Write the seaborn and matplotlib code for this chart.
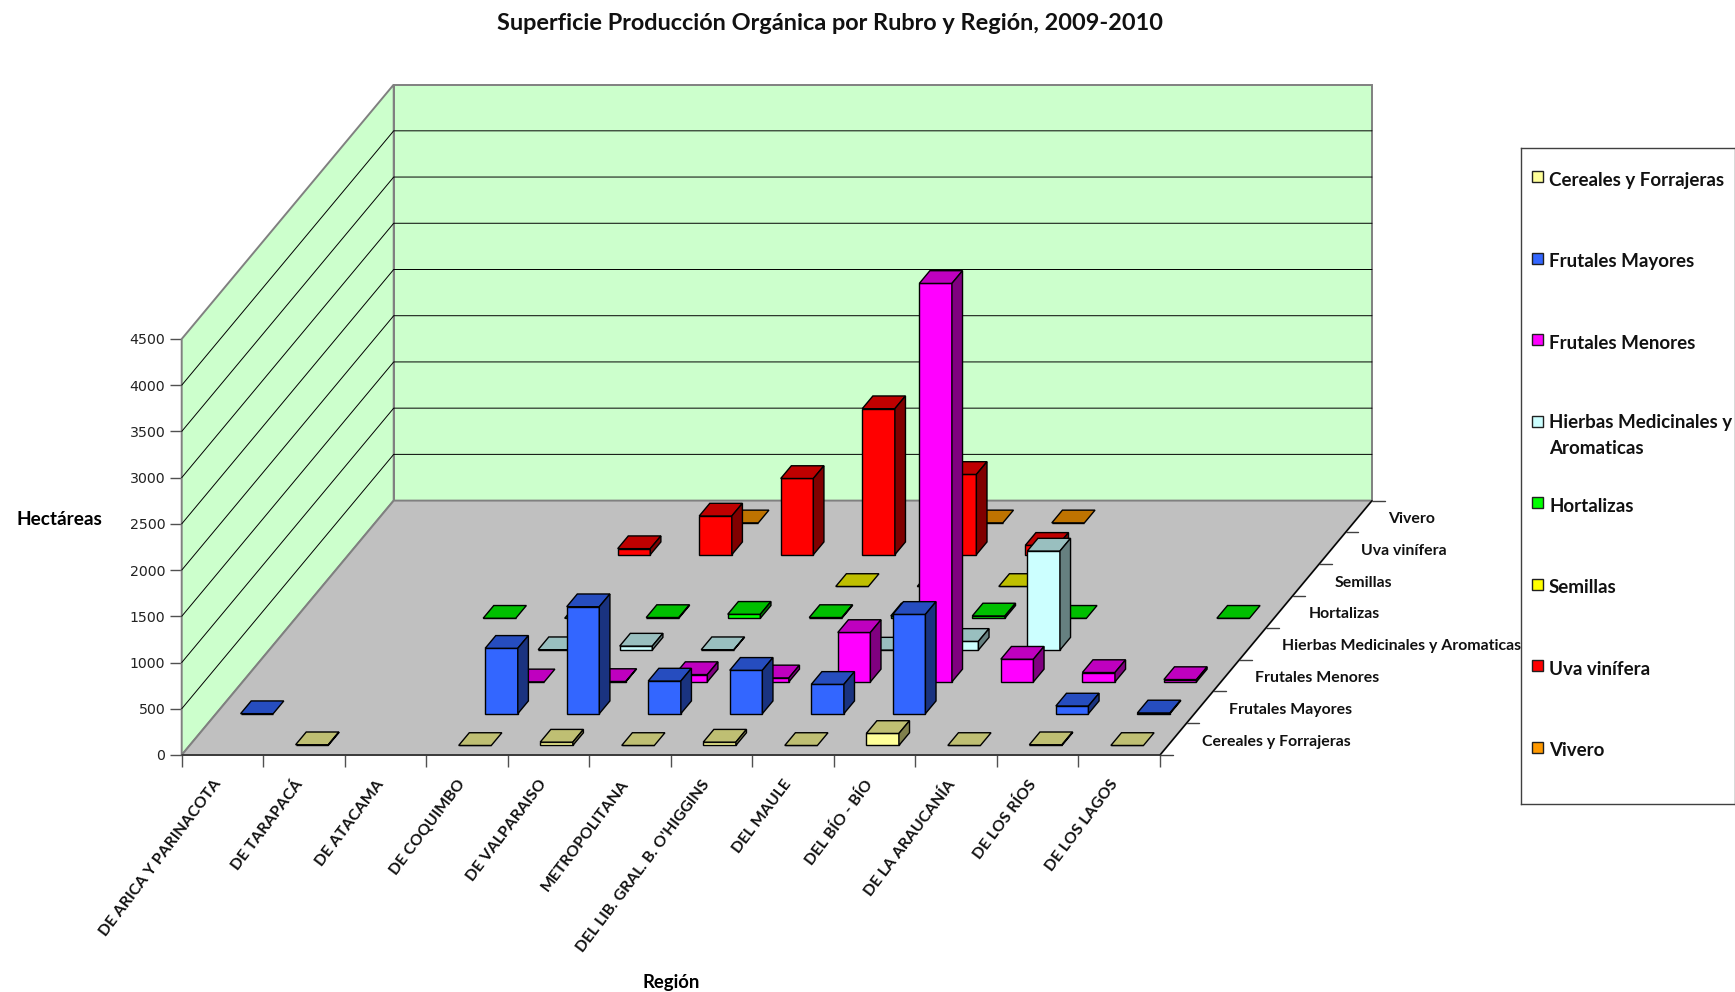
# Superficie organica por rubro y region, version 3D oblicua estilo Excel
import numpy as np
import matplotlib
matplotlib.use("Agg")
import matplotlib.pyplot as plt
from matplotlib.colors import to_rgb
from matplotlib.patches import Polygon, Rectangle
from matplotlib.transforms import ScaledTranslation
import seaborn as sns

regiones = ["DE ARICA Y PARINACOTA", "DE TARAPACÁ", "DE ATACAMA", "DE COQUIMBO",
            "DE VALPARAISO", "METROPOLITANA", "DEL LIB. GRAL. B. O'HIGGINS",
            "DEL MAULE", "DEL BÍO - BÍO", "DE LA ARAUCANÍA", "DE LOS RÍOS", "DE LOS LAGOS"]
rubros = ["Cereales y Forrajeras", "Frutales Mayores", "Frutales Menores",
          "Hierbas Medicinales y Aromaticas", "Hortalizas", "Semillas", "Uva vinífera", "Vivero"]
n = np.nan
cereales = [n, 8, n, 0, 36, 0, 36, 0, 130, 0, 8, 0]
mayores = [0, n, n, 707, 1157, 353, 469, 317, 1074, n, 83, 8]
menores = [n, n, n, 0, 4, 79, 43, 534, 4310, 245, 101, 25]
hierbas = [n, n, n, 4, 43, 4, n, 0, 94, 1071, n, n]
hortalizas = [n, n, 0, 0, 8, 43, 8, 25, 25, 0, n, 0]
semillas = [n, n, n, n, n, n, 0, 0, 0, n, n, n]
uva = [n, n, n, 65, 418, 824, 1579, 868, 101, n, n, n]
vivero = [n, n, n, n, 0, n, n, 0, 0, n, n, n]
series = [cereales, mayores, menores, hierbas, hortalizas, semillas, uva, vivero]
colores = ["#FFFF99", "#3366FF", "#FF00FF", "#CCFFFF", "#00FF00", "#FFFF00", "#FF0000", "#FF9900"]
yticks = list(range(0, 5000, 500))

W, H = 1735, 992
X0, X1, Y0, Y1 = 181.7, 1160.0, 755.0, 339.0   # plano frontal en pixeles
DX = 26.5 / ((X1 - X0) / 12)                   # desplazamiento por rubro en unidades de region
DY = 31.8 / ((Y0 - Y1) / 4500)                 # y en hectareas
BAR = 0.4
FONT = ["Lato", "DejaVu Sans"]

sns.set_theme(style="white")
plt.rcParams["font.family"] = FONT

fig = plt.figure(figsize=(W / 100, H / 100), dpi=100)
ax = fig.add_axes([X0 / W, (H - Y0) / H, (X1 - X0) / W, (Y0 - Y1) / H])
ax.patch.set_alpha(0)
NC, NS = len(regiones), len(rubros)
ymax = yticks[-1]


def shade(color, k):
    return tuple(c * k for c in to_rgb(color))


def pt(x, v, d):
    return (x + d * DX, v + d * DY)


def face(points, color, z, lw=1.0, ec="black"):
    ax.add_patch(Polygon(points, closed=True, fc=color, ec=ec, lw=lw, zorder=z,
                         clip_on=False, joinstyle="miter"))


# paredes y piso
WALL = "#CCFFCC"
EDGE = "#808080"
face([pt(0, 0, NS), pt(NC, 0, NS), pt(NC, ymax, NS), pt(0, ymax, NS)], WALL, 1, 1.4, EDGE)
face([pt(0, 0, 0), pt(0, 0, NS), pt(0, ymax, NS), pt(0, ymax, 0)], WALL, 1, 1.4, EDGE)
for v in yticks[1:-1]:
    ax.plot(*zip(pt(0, v, 0), pt(0, v, NS), pt(NC, v, NS)), color="black", lw=0.7,
            zorder=2, clip_on=False)
face([pt(0, 0, 0), pt(NC, 0, 0), pt(NC, 0, NS), pt(0, 0, NS)], "#C0C0C0", 3, 1.4, EDGE)
ax.plot(*zip(pt(NC, 0, 0), pt(NC, 0, NS)), color="black", lw=1.0, zorder=4, clip_on=False)
ax.plot(*zip(pt(0, 0, 0), pt(NC, 0, 0)), color="#303030", lw=1.2, zorder=4, clip_on=False)

# barras de atras hacia adelante
for j in range(NS - 1, -1, -1):
    z = 10 + NS - j
    d = j + 0.5 - BAR / 2
    xs = np.arange(NC) + 0.5 + d * DX
    vals = np.array(series[j], dtype=float)
    sns.barplot(x=xs, y=vals, bottom=d * DY, native_scale=True, width=BAR, color=colores[j],
                saturation=1, errorbar=None, edgecolor="black", linewidth=1.0,
                zorder=z, clip_on=False, ax=ax)
    for i, v in enumerate(vals):
        if np.isnan(v):
            continue
        x = i + 0.5 - BAR / 2
        face([pt(x, v, d), pt(x + BAR, v, d), pt(x + BAR, v, d + BAR), pt(x, v, d + BAR)],
             shade(colores[j], 0.75), z)
        if v > 0:
            face([pt(x + BAR, 0, d), pt(x + BAR, 0, d + BAR), pt(x + BAR, v, d + BAR), pt(x + BAR, v, d)],
                 shade(colores[j], 0.5), z)

ax.set_xlim(0, NC)
ax.set_ylim(0, ymax)
for s in ["top", "right", "bottom"]:
    ax.spines[s].set_visible(False)
ax.spines["left"].set_visible(False)
ax.set_xticks(range(NC + 1))
ax.set_xticklabels([])
ax.set_xticks(np.arange(NC) + 0.5, minor=True)
ax.set_xticklabels(regiones, minor=True, rotation=53, ha="right", va="top",
                   rotation_mode="anchor", fontweight="bold", fontsize=11.3, color="#111111")
ax.set_yticks(yticks)
ax.set_yticklabels(yticks, family="DejaVu Sans", fontsize=10.2, color="#222222")
ax.tick_params(axis="both", which="major", length=8.8, width=1.0, color="#505050", left=True, bottom=True)
ax.tick_params(axis="x", which="minor", length=0, pad=16)
ax.tick_params(axis="y", which="major", pad=3)
# tick_params rehace el transform de las etiquetas, el corrimiento va despues
shift = ScaledTranslation(-7.2 / 72, 0, fig.dpi_scale_trans)
for lab in ax.get_xticklabels(minor=True):
    lab.set_transform(lab.get_transform() + shift)

# eje de profundidad
for k in range(NS + 1):
    xa, ya = pt(NC, 0, k)
    ax.plot([xa, xa + 0.156], [ya, ya], color="#404040", lw=1.0, clip_on=False, zorder=2)
for j, name in enumerate(rubros):
    xa, ya = pt(NC, 0, j + 0.5)
    ax.text(xa + 0.357, ya - 27, name, ha="left", va="center", fontsize=11.4,
            fontweight="bold", color="#111111", clip_on=False)

ax.set_xlabel("Región", fontweight="bold", fontsize=13.3, color="black", va="center")
ax.xaxis.set_label_coords(0.5, -0.546)
ax.set_ylabel("Hectáreas", fontweight="bold", fontsize=13.7, color="black", rotation=0,
              ha="left", va="center")
ax.yaxis.set_label_coords(-0.169, 0.566)
fig.suptitle("Superficie Producción Orgánica por Rubro y Región, 2009-2010", x=830 / W,
             y=1 - 23.5 / H, va="center", fontweight="bold", fontsize=16.9, color="#111111")

# leyenda
lax = fig.add_axes([1521.3 / W, (H - 804.3) / H, 213.2 / W, 656.6 / H])
lax.set_xlim(1521.3, 1734.5)
lax.set_ylim(804.3, 147.7)
lax.set_xticks([])
lax.set_yticks([])
for s in lax.spines.values():
    s.set_color("#404040")
    s.set_linewidth(1.0)
for k, name in enumerate(rubros):
    y = 176.7 + k * 81.5
    lax.add_patch(Rectangle((1532, y - 5.5), 11, 11, fc=colores[k], ec="#202020", lw=1.0))
    if k == 3:
        lax.text(1549, y - 7, "Hierbas Medicinales y\nAromaticas", ha="left", va="top",
                 fontsize=13.5, fontweight="bold", color="#111111", linespacing=1.62)
    else:
        lax.text(1549, y + 3.5, name, ha="left", va="center", fontsize=13.5,
                 fontweight="bold", color="#111111")

fig.savefig("out.png", dpi=100)
